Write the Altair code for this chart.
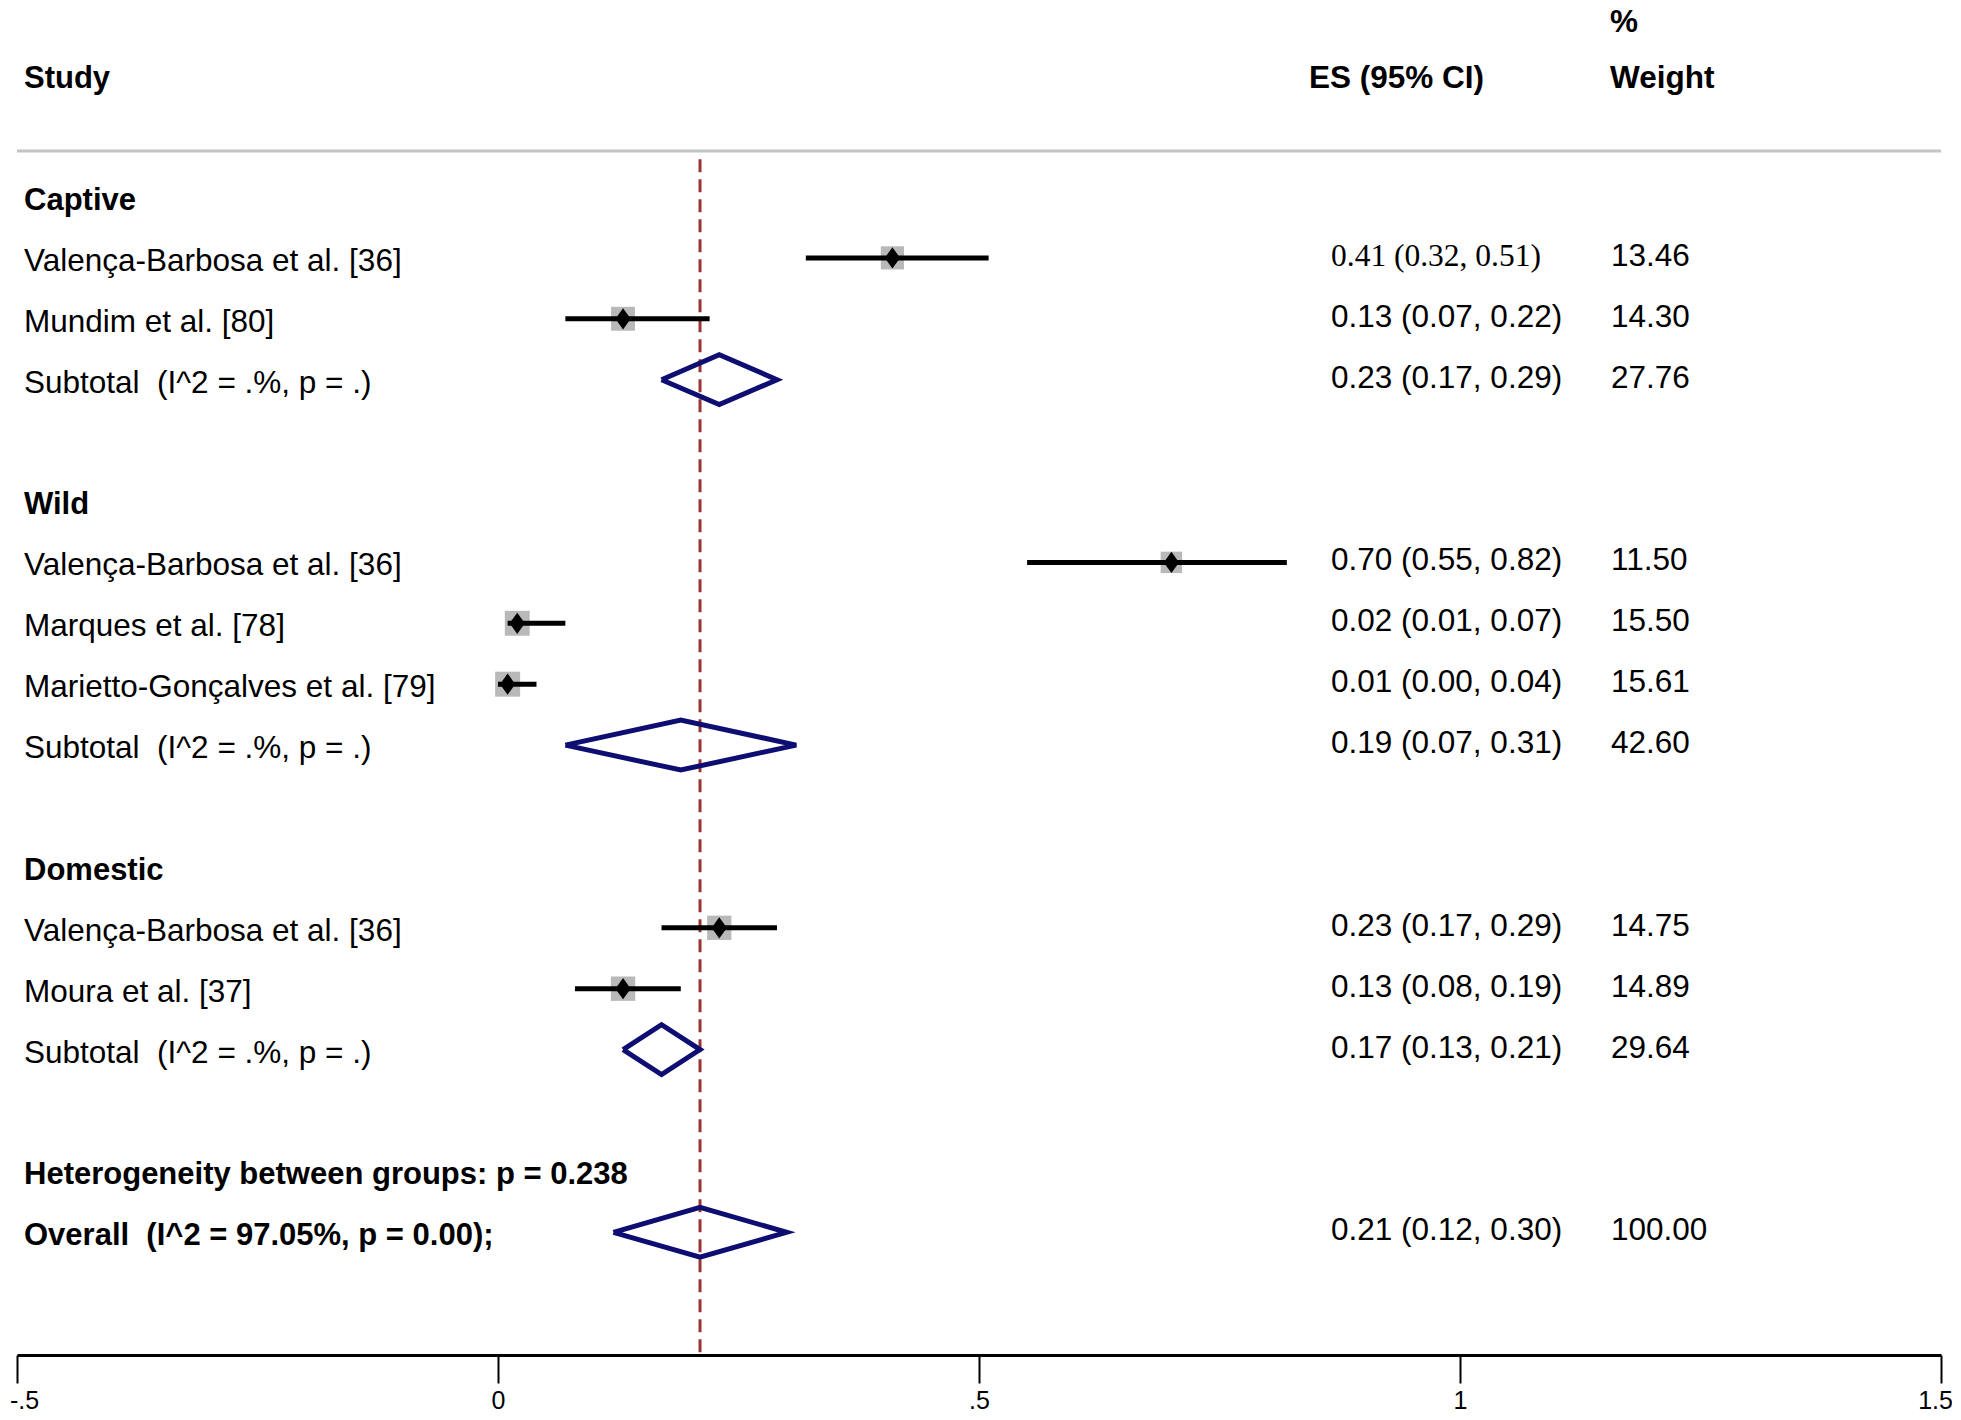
import altair as alt
import pandas as pd

# ---------------- data ----------------
label_rows = [0, 1, 2, 3, 5, 6, 7, 8, 9, 11, 12, 13, 14, 16, 17]
label_text = [
    "Captive",
    "Valença-Barbosa et al. [36]",
    "Mundim et al. [80]",
    "Subtotal\u00a0\u00a0(I^2 = .%, p = .)",
    "Wild",
    "Valença-Barbosa et al. [36]",
    "Marques et al. [78]",
    "Marietto-Gonçalves et al. [79]",
    "Subtotal\u00a0\u00a0(I^2 = .%, p = .)",
    "Domestic",
    "Valença-Barbosa et al. [36]",
    "Moura et al. [37]",
    "Subtotal\u00a0\u00a0(I^2 = .%, p = .)",
    "Heterogeneity between groups: p = 0.238",
    "Overall\u00a0\u00a0(I^2 = 97.05%, p = 0.00);",
]
label_bold = [True, False, False, False, True, False, False, False, False,
              True, False, False, False, True, True]

study_rows = [1, 2, 6, 7, 8, 12, 13]
study_es = [0.41, 0.13, 0.70, 0.02, 0.01, 0.23, 0.13]
study_lo = [0.32, 0.07, 0.55, 0.01, 0.00, 0.17, 0.08]
study_hi = [0.51, 0.22, 0.82, 0.07, 0.04, 0.29, 0.19]
study_wt = [13.46, 14.30, 11.50, 15.50, 15.61, 14.75, 14.89]

sub_rows = [3, 9, 14, 17]
sub_es = [0.23, 0.19, 0.17, 0.21]
sub_lo = [0.17, 0.07, 0.13, 0.12]
sub_hi = [0.29, 0.31, 0.21, 0.30]
sub_wt = [27.76, 42.60, 29.64, 100.00]

overall_es = 0.21
x_ticks = [-0.5, 0, 0.5, 1, 1.5]

header_rows = [-2, -2, -2, -3]
header_text = ["Study", "ES (95% CI)", "Weight", "%"]
header_col = ["study", "es", "wt", "pct"]

# ---------------- tables ----------------
labels = pd.DataFrame({"row": label_rows, "text": label_text, "bold": label_bold})
studies = pd.DataFrame({"row": study_rows, "es": study_es, "lo": study_lo,
                        "hi": study_hi, "wt": study_wt})

es_rows = study_rows + sub_rows
es_vals = list(zip(study_es + sub_es, study_lo + sub_lo, study_hi + sub_hi))
wt_vals = study_wt + sub_wt
right = pd.DataFrame({
    "row": es_rows,
    "estext": ["%.2f (%.2f, %.2f)" % v for v in es_vals],
    "wttext": ["%.2f" % w for w in wt_vals],
    "serif": [i == 0 for i in range(len(es_rows))],
})

H = 0.41
dia = []
for k, (r, e, l, h) in enumerate(zip(sub_rows, sub_es, sub_lo, sub_hi)):
    pts = [(l, r), (e, r - H), (h, r), (e, r + H), (l, r)]
    for o, (px, py) in enumerate(pts):
        dia.append({"g": k, "o": o, "x": px, "y": py})
dia = pd.DataFrame(dia)

headers = pd.DataFrame({"row": header_rows, "text": header_text, "col": header_col})
top_rule = pd.DataFrame({"x": [x_ticks[0]], "x2": [x_ticks[-1]], "y": [-0.755]})
ref_line = pd.DataFrame({"x": [overall_es], "y": [-0.62], "y2": [19.015]})

# ---------------- scales ----------------
FONT = "Liberation Sans"
FS = 31.5
FSB = 31
X_SC = alt.Scale(domain=[-0.5, 1.5], nice=False, zero=False)
Y_SC = alt.Scale(domain=[-3.103, 19.015], nice=False, zero=False, reverse=True)
X_AX = alt.Axis(values=x_ticks, labelExpr="replace(toString(datum.value), '0.', '.')",
                title=None, grid=False, domainColor="black", domainWidth=3,
                tickColor="black", tickWidth=2, tickSize=28, labelFont=FONT,
                labelFontSize=25, labelColor="black", labelPadding=5,
                labelOffset={"condition": [{"test": "datum.value == 1.5", "value": -6},
                                           {"test": "datum.value == -0.5", "value": 7}],
                             "value": 0},
                labelFlush=False, labelOverlap=False)


def X(f):
    return alt.X(f, type="quantitative", scale=X_SC, axis=X_AX)


def Y(f):
    return alt.Y(f, type="quantitative", scale=Y_SC, axis=None)


rule_top = alt.Chart(top_rule).mark_rule(color="#c4c4c4", strokeWidth=3).encode(
    x=X("x"), x2="x2", y=Y("y"))

ref = alt.Chart(ref_line).mark_rule(color="#9b3434", strokeWidth=3,
                                    strokeDash=[13, 7]).encode(
    x=X("x"), y=Y("y"), y2="y2")

boxes = alt.Chart(studies).mark_square(color="#b9b9b9", opacity=1).encode(
    x=X("es"), y=Y("row"),
    size=alt.Size("wt", type="quantitative",
                  scale=alt.Scale(domain=[0, 16], range=[0, 640]), legend=None))

ci = alt.Chart(studies).mark_rule(color="black", strokeWidth=5).encode(
    x=X("lo"), x2="hi", y=Y("row"))

pts = alt.Chart(studies).mark_point(
    shape="M0,-1L0.72,0L0,1L-0.72,0Z", filled=True, color="black", opacity=1,
    size=450).encode(x=X("es"), y=Y("row"))

dias = alt.Chart(dia).mark_line(color="#0d0d72", strokeWidth=5,
                                strokeJoin="miter").encode(
    x=X("x"), y=Y("y"), detail="g:N", order="o:Q")

lab_reg = alt.Chart(labels).transform_filter("!datum.bold").mark_text(
    align="left", baseline="middle", font=FONT, fontSize=FS, color="black", dy=4
).encode(x=alt.value(7), y=Y("row"), text="text:N")

lab_bold = alt.Chart(labels).transform_filter("datum.bold").mark_text(
    align="left", baseline="middle", font=FONT, fontSize=FSB, fontWeight="bold",
    color="black", dy=4).encode(x=alt.value(7), y=Y("row"), text="text:N")

es_sans = alt.Chart(right).transform_filter("!datum.serif").mark_text(
    align="left", baseline="middle", font=FONT, fontSize=FS, color="black", dy=-1
).encode(x=alt.value(1314), y=Y("row"), text="estext:N")

es_serif = alt.Chart(right).transform_filter("datum.serif").mark_text(
    align="left", baseline="middle", font="Liberation Serif", fontSize=FS,
    color="black", dy=-1).encode(x=alt.value(1314), y=Y("row"), text="estext:N")

wt_txt = alt.Chart(right).mark_text(
    align="left", baseline="middle", font=FONT, fontSize=FS, color="black", dy=-1
).encode(x=alt.value(1594), y=Y("row"), text="wttext:N")

hdr_study = alt.Chart(headers).transform_filter("datum.col == 'study'").mark_text(
    align="left", baseline="middle", font=FONT, fontSize=FSB, fontWeight="bold",
    color="black", dy=4).encode(x=alt.value(7), y=Y("row"), text="text:N")
hdr_es = alt.Chart(headers).transform_filter("datum.col == 'es'").mark_text(
    align="left", baseline="middle", font=FONT, fontSize=FS, fontWeight="bold",
    color="black", dy=4).encode(x=alt.value(1292), y=Y("row"), text="text:N")
hdr_wt = alt.Chart(headers).transform_filter("datum.col == 'wt'").mark_text(
    align="left", baseline="middle", font=FONT, fontSize=FS, fontWeight="bold",
    color="black", dy=4).encode(x=alt.value(1593), y=Y("row"), text="text:N")
hdr_pct = alt.Chart(headers).transform_filter("datum.col == 'pct'").mark_text(
    align="left", baseline="middle", font=FONT, fontSize=FS, fontWeight="bold",
    color="black", dy=9).encode(x=alt.value(1593), y=Y("row"), text="text:N")

chart = alt.layer(
    rule_top, ref, boxes, ci, pts, dias,
    lab_reg, lab_bold, es_sans, es_serif, wt_txt,
    hdr_study, hdr_es, hdr_wt, hdr_pct
).properties(
    width=1924, height=1347,
    autosize=alt.AutoSizeParams(type="none"),
    padding={"left": 9, "top": 0, "right": 11, "bottom": 57},
    background="white",
).configure_view(stroke=None)

chart.save("out.html", embed_options={"renderer": "svg", "actions": False})
